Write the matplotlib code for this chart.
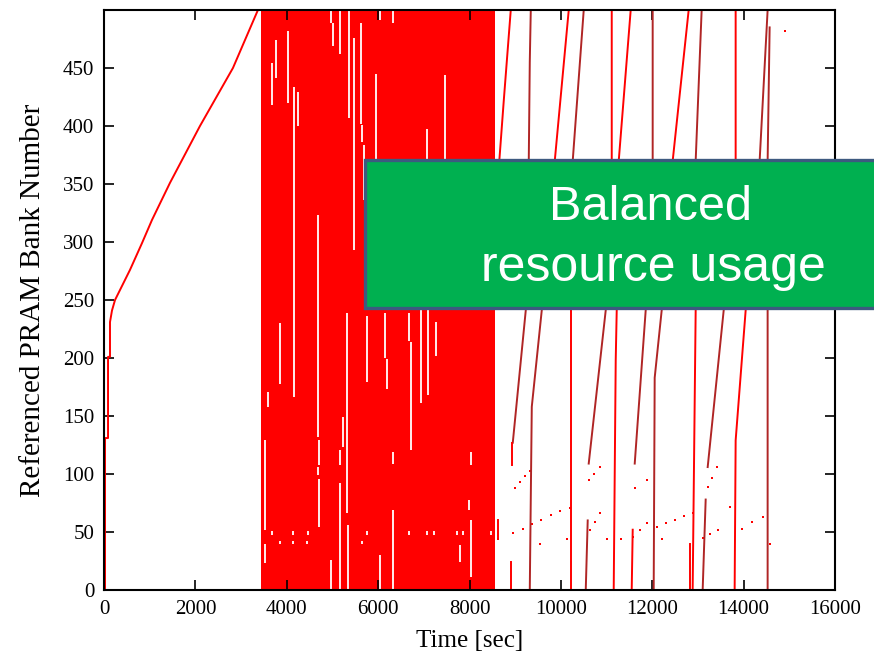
import matplotlib.pyplot as plt
from matplotlib.patches import Rectangle

RED = '#ff0000'
DARK = '#b02525'

# early sequential phase: one sweep through all banks
early_t = [22, 22, 88, 88, 131, 131, 175, 241, 569, 831, 1050, 1444, 2100, 2822, 3369]
early_b = [0, 131, 131, 201, 201, 231, 241, 250, 276, 299, 319, 351, 400, 450, 500]

# dense phase (every bank referenced) and the holes in it
dense_start = 3440
dense_end = 8555
gap_t = [3682, 3763, 4025, 4156, 4244, 4966, 5009, 5163, 5359, 5469, 5622, 5644, 5688,
         5950, 6038, 6322, 7066, 7459,
         3522, 3522, 3588, 3850, 4681, 4703, 4681, 4703, 4966, 5163, 5163, 5228, 5316,
         5338, 5753, 6038, 6147, 6191, 6322, 6322, 6672, 6716, 6934, 7088, 7263, 7788,
         7984, 8028, 8028]
gap_lo = [418, 441, 420, 166, 400, 489, 469, 462, 407, 293, 402, 386, 336,
          336, 491, 489, 250, 250,
          52, 23, 158, 178, 132, 108, 99, 54, 0, 108, 0, 123, 66,
          0, 179, 0, 200, 173, 109, 0, 215, 121, 161, 168, 202, 24,
          69, 108, 11]
gap_hi = [454, 474, 482, 434, 429, 500, 489, 500, 500, 476, 489, 401, 384,
          445, 500, 500, 397, 444,
          129, 40, 171, 230, 323, 129, 106, 96, 26, 121, 92, 149, 239,
          56, 236, 30, 239, 199, 119, 69, 239, 214, 241, 241, 231, 39,
          78, 119, 60]
hole_t = [3675, 4134, 4463, 5753, 6672, 7066, 7219, 7722, 7853, 8466, 3850, 4134, 4441, 5644]
hole_b = [49, 49, 49, 49, 49, 49, 49, 49, 49, 49, 41, 41, 41, 41]

# balanced phase: sweeps (time, bank, colour)
sweeps = [
    ([8903, 8750, 8652, 8597], [500, 422, 370, 336], RED),
    ([9341, 9319, 9297, 9231, 8947], [500, 455, 370, 241, 127], DARK),
    ([8925, 8925], [127, 108], RED),
    ([10172, 9866, 9713], [500, 370, 306], RED),
    ([9713, 9581, 9363, 9319], [306, 241, 158, 0], DARK),
    ([10500, 10259, 10216], [500, 370, 306], DARK),
    ([10216, 10216], [306, 0], RED),
    ([11113, 11113, 11222, 11200, 11156], [500, 370, 241, 198, 0], RED),
    ([11528, 11266, 11113], [500, 370, 306], RED),
    ([11113, 10981, 10609], [306, 241, 109], DARK),
    ([10587, 10544], [60, 0], DARK),
    ([12009, 12009, 11856, 11616], [500, 370, 241, 109], DARK),
    ([11572, 11550], [52, 0], RED),
    ([12797, 12447, 12338], [500, 370, 306], RED),
    ([12338, 12206, 12053, 12031], [306, 241, 183, 0], DARK),
    ([13081, 12950, 12950], [500, 370, 306], DARK),
    ([12950, 12950, 12884], [306, 241, 0], RED),
    ([13825, 13825, 13694], [500, 370, 306], RED),
    ([13694, 13563, 13213], [306, 241, 106], DARK),
    ([13169, 13103], [78, 0], DARK),
    ([14525, 14350, 14197], [500, 370, 306], DARK),
    ([14197, 14044, 13825, 13803], [306, 241, 129, 0], RED),
    ([14569, 14525, 14525], [485, 370, 0], DARK),
    ([8619, 8619], [44, 60], RED),
    ([8903, 8903], [0, 24], RED),
    ([12819, 12819], [0, 40], RED),
]

# scattered single references
dot_t = [8947, 9166, 9363, 9559, 9778, 9975, 10194,
         8991, 9100, 9209, 9319,
         10631, 10741, 10850, 10609, 10719, 10850,
         11572, 11725, 11878, 11616, 11878,
         12097, 12294, 12491, 12688, 12884,
         13103, 13256, 13431, 13213, 13300, 13409,
         13956, 14175, 14416, 14897, 13694,
         8619, 9538, 10128, 11003, 11309, 12206, 14569]
dot_b = [49, 53, 57, 60, 65, 68, 71,
         88, 93, 98, 103,
         52, 59, 66, 95, 100, 106,
         46, 52, 58, 88, 95,
         54, 58, 60, 64, 66,
         45, 48, 52, 89, 97, 106,
         53, 59, 63, 482, 72,
         44, 40, 44, 44, 44, 44, 40]

x_ticks = [0, 2000, 4000, 6000, 8000, 10000, 12000, 14000, 16000]
y_ticks = [0, 50, 100, 150, 200, 250, 300, 350, 400, 450]

fig = plt.figure(figsize=(8.74, 6.58), dpi=100)
ax = fig.add_axes([0.119, 0.1033, 0.8364, 0.8815])

ax.fill_between([dense_start, dense_end], 0, 500, color=RED, linewidth=0)
ax.vlines(gap_t, gap_lo, gap_hi, color='white', linewidth=1.3)
ax.vlines(hole_t, [b - 1.5 for b in hole_b], [b + 1.5 for b in hole_b],
          color='white', linewidth=1.3)

ax.plot(early_t, early_b, color=RED, linewidth=1.4)
for t, b, c in sweeps:
    ax.plot(t, b, color=c, linewidth=1.4)
ax.scatter(dot_t, dot_b, marker='s', s=4, color=RED, linewidths=0)

ax.set_xlim(0, 16000)
ax.set_ylim(0, 500)
ax.set_xticks(x_ticks)
ax.set_yticks(y_ticks)
ax.tick_params(direction='in', length=7, width=1.2, top=True, right=True,
               labelsize=15, pad=7)
for lab in ax.get_xticklabels() + ax.get_yticklabels():
    lab.set_family('Liberation Serif')
for s in ax.spines.values():
    s.set_linewidth(1.5)

ax.set_xlabel('Time [sec]', family='Liberation Serif', fontsize=18, labelpad=8)
ax.set_ylabel('Referenced PRAM Bank Number', family='Liberation Serif',
              fontsize=21, labelpad=12)

# callout box
fig.patches.append(Rectangle((0.4176, 0.5319), 0.65, 0.2249, transform=fig.transFigure,
                             facecolor='#00b050', edgecolor='#3d5a80', linewidth=2.4,
                             zorder=5))
fig.text(0.744, 0.6854, 'Balanced', family='Liberation Sans', fontsize=35,
         color='white', ha='center', va='center', zorder=6)
fig.text(0.747, 0.5927, 'resource usage', family='Liberation Sans', fontsize=36,
         color='white', ha='center', va='center', zorder=6)

fig.savefig('out.png', dpi=100)
